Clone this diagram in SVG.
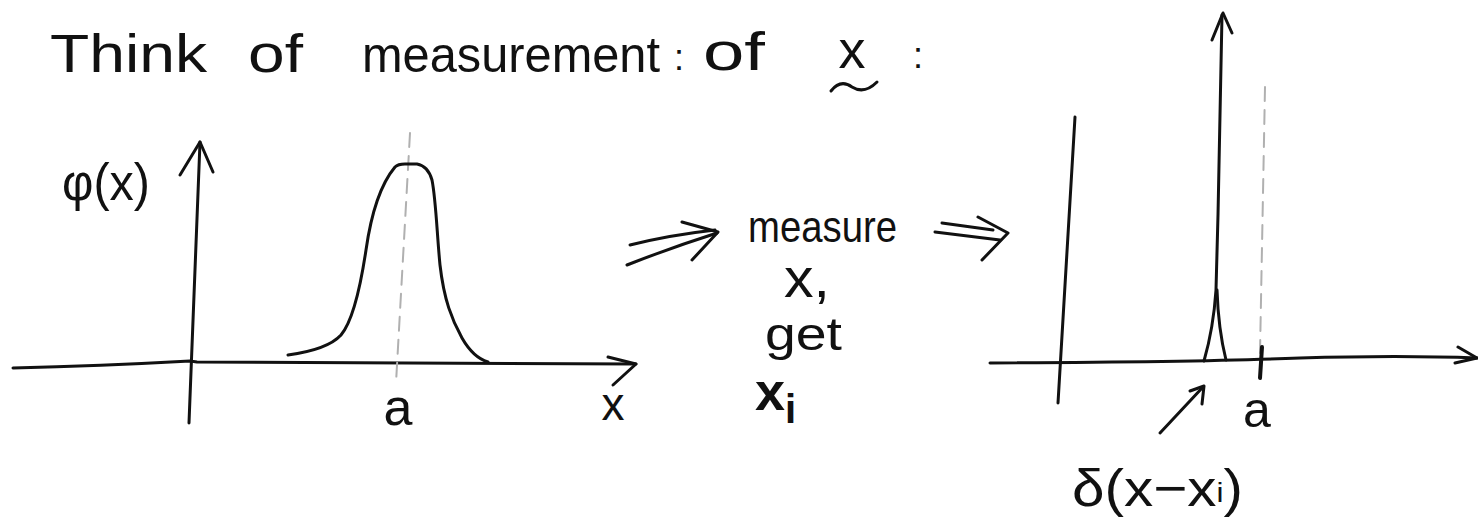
<svg xmlns="http://www.w3.org/2000/svg" width="1478" height="520" viewBox="0 0 1478 520">
<style>
.ink{fill:none;stroke:#111;stroke-width:3;stroke-linecap:round;stroke-linejoin:round}
.thick{stroke-width:4}
.dash{fill:none;stroke:#b0b0b0;stroke-width:2;stroke-dasharray:14 9;stroke-linecap:round}
.t{font-family:"Liberation Sans",Arial,sans-serif;fill:#111}
</style>
<rect width="1478" height="520" fill="#fff"/>
<g id="title">
<text class="t" x="50" y="72" font-size="54" textLength="157" lengthAdjust="spacingAndGlyphs">Think</text>
<text class="t" x="248" y="72" font-size="54" textLength="55" lengthAdjust="spacingAndGlyphs">of</text>
<text class="t" x="362" y="72" font-size="50" textLength="298" lengthAdjust="spacingAndGlyphs">measurement</text>
<text class="t" x="674" y="70" font-size="36" fill="#777">:</text>
<text class="t" x="703" y="70" font-size="54" textLength="62" lengthAdjust="spacingAndGlyphs">of</text>
<text class="t" x="852" y="68" font-size="54" text-anchor="middle">x</text>
<path class="ink" stroke-width="2.5" d="M831,91 C838,82 845,82 852,87 C860,92 868,91 877,82"/>
<text class="t" x="913" y="68" font-size="36" fill="#777">:</text>
</g>
<g id="left-graph">
<path class="ink" d="M13,368 Q100,366 190,361 L197,362 Q400,362 636,364"/>
<path class="ink" d="M608,357 L636,364 L613,385"/>
<path class="ink" d="M189,423 L200,142"/>
<path class="ink" d="M180,175 L200,142 L213,172"/>
<path class="dash" d="M410,133 L396,383"/>
<path class="ink" d="M288,355 C310,352 330,347 341,335 C352,322 360,290 366,250 C371,215 380,185 395,167 Q398,164 405,164 L417,164 Q428,166 432,180 C436,200 437,235 440,265 C444,300 452,320 462,338 C470,352 478,359 488,362"/>
<text class="t" x="62" y="200" font-size="52" textLength="88" lengthAdjust="spacingAndGlyphs">φ(x)</text>
<text class="t" x="398" y="425" font-size="52" text-anchor="middle">a</text>
<text class="t" x="613" y="420" font-size="46" text-anchor="middle">x</text>
</g>
<g id="middle-text">
<text class="t" x="748" y="242" font-size="44" textLength="149" lengthAdjust="spacingAndGlyphs">measure</text>
<text class="t" x="784" y="297" font-size="56" textLength="46" lengthAdjust="spacingAndGlyphs">x,</text>
<text class="t" x="765" y="350" font-size="46" textLength="77" lengthAdjust="spacingAndGlyphs">get</text>
<text class="t" x="755" y="410" font-size="54" font-weight="bold">x<tspan font-size="40" dy="13">i</tspan></text>
</g>
<g id="right-graph">
<path class="ink" d="M1075,117 L1058,403"/>
<path class="ink" d="M990,363 Q1200,362 1300,358 Q1400,355 1477,358"/>
<path class="ink" d="M1458,347 L1477,358 L1455,363"/>
<path class="dash" d="M1265,87 L1260,353"/>
<path class="ink thick" d="M1262,347 L1260,378"/>
<path class="ink" stroke-width="3.5" d="M1204,361 C1210,340 1214,320 1216,290 L1218,215 L1222,15"/>
<path class="ink" d="M1226,360 C1221,340 1218,320 1217,290"/>
<path class="ink" d="M1212,40 L1223,13 L1232,33"/>
<text class="t" x="1257" y="427" font-size="50" text-anchor="middle">a</text>
</g>
<g id="delta-label">
<text class="t" x="1072" y="506" font-size="52" textLength="171" lengthAdjust="spacingAndGlyphs">δ(x−x<tspan font-size="28" dy="-4">i</tspan><tspan dy="4">)</tspan></text>
</g>
<g id="connectors">
<path class="ink" d="M627,265 Q670,248 717,233"/>
<path class="ink" d="M630,245 Q670,235 715,230"/>
<path class="ink" d="M682,222 L718,232 L692,260"/>
<path class="ink" d="M935,232 L1000,240"/>
<path class="ink" d="M942,223 L993,230"/>
<path class="ink" d="M978,217 L1008,233 L982,260"/>
<path class="ink" d="M1160,433 L1203,387"/>
<path class="ink" d="M1190,391 L1204,386 L1202,404"/>
</g>
</svg>
